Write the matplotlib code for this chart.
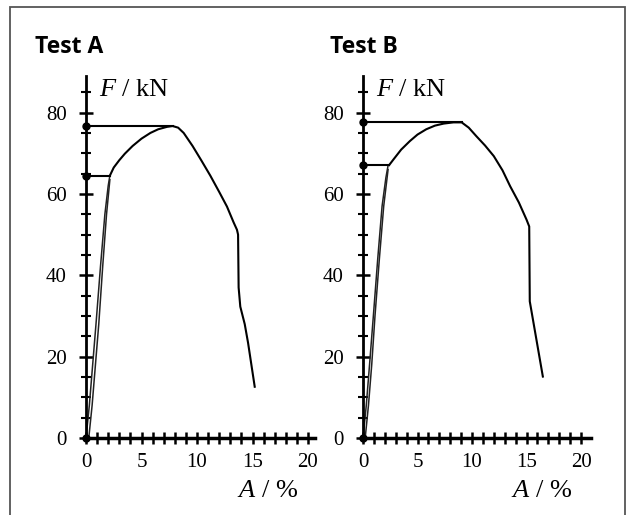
import matplotlib
matplotlib.use("Agg")
import matplotlib.pyplot as plt
from matplotlib.patches import Rectangle
from matplotlib.ticker import MultipleLocator

plt.rcParams["mathtext.fontset"] = "custom"
plt.rcParams["mathtext.it"] = "Liberation Serif:italic"
plt.rcParams["mathtext.rm"] = "Liberation Serif"

# ---- data ----
titles = ["Test A", "Test B"]
xticks = [0, 5, 10, 15, 20]
yticks = [0, 20, 40, 60, 80]

# Test A
a_load1_x = [0.0, 0.3, 0.6, 0.9, 1.3, 1.7, 2.0, 2.15]
a_load1_y = [0.0, 8.0, 18.0, 28.0, 42.0, 55.0, 62.0, 64.5]
a_load2_x = [0.25, 0.55, 0.85, 1.15, 1.5, 1.85, 2.15]
a_load2_y = [0.0, 8.0, 18.0, 28.0, 42.0, 55.0, 63.5]
a_curve_x = [2.15, 2.5, 3.0, 3.5, 4.2, 5.0, 5.8, 6.5, 7.3, 7.8, 8.3, 8.8, 9.6, 10.4, 11.2,
             12.0, 12.7, 13.3, 13.6, 13.7, 13.75, 13.9, 14.3, 14.6, 14.9, 15.2]
a_curve_y = [64.5, 66.5, 68.3, 69.9, 71.8, 73.6, 75.0, 75.9, 76.5, 76.7, 76.3, 75.0, 71.8,
             68.2, 64.5, 60.5, 56.9, 53.0, 51.2, 50.0, 37.0, 32.3, 28.0, 23.4, 18.0, 12.6]
a_upper = 76.7
a_yield = 64.3
a_yield_x = 2.15
a_upper_x = 7.8

# Test B
b_load1_x = [0.0, 0.3, 0.6, 0.95, 1.35, 1.75, 2.1, 2.3]
b_load1_y = [0.0, 8.0, 18.0, 30.0, 44.0, 57.0, 64.0, 67.0]
b_load2_x = [0.2, 0.5, 0.8, 1.1, 1.5, 1.9, 2.3]
b_load2_y = [0.0, 8.0, 18.0, 30.0, 44.0, 57.0, 66.0]
b_curve_x = [2.4, 2.8, 3.5, 4.3, 5.0, 5.8, 6.6, 7.4, 8.3, 9.05, 9.7, 10.4, 11.2, 12.0,
             12.8, 13.5, 14.3, 15.0, 15.25, 15.3, 16.5]
b_curve_y = [67.1, 68.5, 70.9, 73.0, 74.6, 75.9, 76.8, 77.3, 77.6, 77.6, 76.3, 74.2, 71.9,
             69.3, 65.8, 61.9, 57.9, 53.7, 52.0, 33.6, 15.1]
b_upper = 77.8
b_yield = 67.1
b_yield_x = 2.4
b_upper_x = 9.05

datasets = [
    (a_load1_x, a_load1_y, a_load2_x, a_load2_y, a_curve_x, a_curve_y, a_upper, a_upper_x, a_yield, a_yield_x),
    (b_load1_x, b_load1_y, b_load2_x, b_load2_y, b_curve_x, b_curve_y, b_upper, b_upper_x, b_yield, b_yield_x),
]

W, H = 629, 515
fig = plt.figure(figsize=(W / 100, H / 100), dpi=100)

# outer frame
fig.patches.append(Rectangle((10 / W, -0.01), (625 - 10) / W, (H - 7) / H + 0.01,
                             transform=fig.transFigure, fill=False,
                             edgecolor="#555555", linewidth=1.3))

serif = "Liberation Serif"
lefts = [86, 363]
pxu = [11.1, 10.9]
xmax = [20.6, 20.9]
y0_px = 438
ytop_px = 76
ymax = 89.0

for i, d in enumerate(datasets):
    l1x, l1y, l2x, l2y, cx, cy, up, upx, yl, ylx = d
    left = lefts[i] / W
    width = pxu[i] * xmax[i] / W
    bottom = (H - y0_px) / H
    height = (y0_px - ytop_px) / H
    ax = fig.add_axes([left, bottom, width, height])
    ax.set_xlim(0, xmax[i])
    ax.set_ylim(0, ymax)
    for s in ["top", "right"]:
        ax.spines[s].set_visible(False)
    ax.spines["left"].set_linewidth(2.0)
    ax.spines["bottom"].set_linewidth(2.5)
    ax.patch.set_alpha(0)

    ax.set_xticks(xticks)
    ax.set_yticks(yticks)
    ax.xaxis.set_minor_locator(MultipleLocator(1))
    ax.yaxis.set_minor_locator(MultipleLocator(5))
    ax.tick_params(axis="x", which="both", direction="inout", length=8, width=1.8, pad=7)
    ax.tick_params(axis="y", which="major", direction="inout", length=10, width=1.8, pad=9)
    ax.tick_params(axis="y", which="minor", direction="inout", length=7, width=1.5)
    ax.tick_params(labelsize=15)
    for lab in ax.get_xticklabels() + ax.get_yticklabels():
        lab.set_fontfamily(serif)

    ax.plot(l1x, l1y, color="#222222", lw=1.1)
    ax.plot(l2x, l2y, color="#222222", lw=1.1)
    ax.plot(cx, cy, color="black", lw=1.5)
    ax.plot([0, upx], [up, up], color="black", lw=1.5)
    ax.plot([0, ylx], [yl, yl], color="black", lw=1.5)
    ax.plot([0, 0, 0], [up, yl, 0], "o", color="black", ms=5, clip_on=False, zorder=5)

    ax.text(1.2, 85.5, r"$F$ / kN", fontsize=19, fontfamily=serif, ha="left", va="center")
    ax.text(13.6, -13, r"$A$ / %", fontsize=19, fontfamily=serif, ha="left", va="center",
            clip_on=False)

fig.text(35 / W, 1 - 47 / H, titles[0], fontsize=16.5, fontweight="bold",
         fontfamily="Open Sans", ha="left", va="center")
fig.text(330 / W, 1 - 47 / H, titles[1], fontsize=16.5, fontweight="bold",
         fontfamily="Open Sans", ha="left", va="center")

fig.savefig("out.png", dpi=100)
